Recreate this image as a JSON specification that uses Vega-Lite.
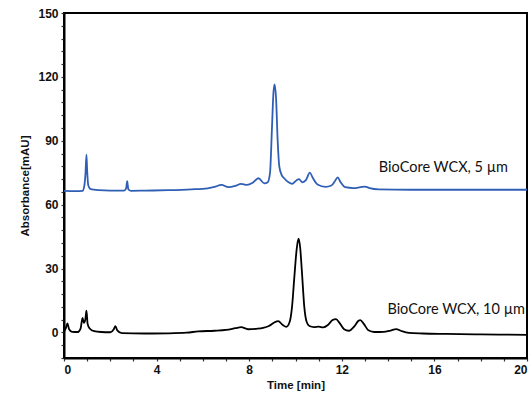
{
  "$schema": "https://vega.github.io/schema/vega-lite/v6.json",
  "width": 463,
  "height": 345,
  "autosize": {"type": "none"},
  "padding": {"left": 64, "top": 13, "right": 5, "bottom": 39},
  "background": "white",
  "config": {
    "view": {"stroke": "black", "strokeWidth": 2},
    "axis": {
      "grid": false,
      "domainColor": "black",
      "domainWidth": 2,
      "tickColor": "#333",
      "tickWidth": 1.2,
      "tickSize": 3,
      "labelOverlap": false,
      "labelFont": "Liberation Sans",
      "labelFontWeight": "bold",
      "labelFontSize": 12,
      "labelColor": "#111",
      "titleFont": "Liberation Sans",
      "titleFontWeight": "bold",
      "titleFontSize": 11.5,
      "titleColor": "#111"
    }
  },
  "datasets": {
    "traces": [
      {"series": "5um", "t": 0, "y": 66.5},
      {"series": "5um", "t": 0.5, "y": 66.4},
      {"series": "5um", "t": 0.8, "y": 66.5},
      {"series": "5um", "t": 0.88, "y": 69},
      {"series": "5um", "t": 0.93, "y": 75},
      {"series": "5um", "t": 0.97, "y": 83.5},
      {"series": "5um", "t": 1.0, "y": 76},
      {"series": "5um", "t": 1.05, "y": 69},
      {"series": "5um", "t": 1.15, "y": 67.3},
      {"series": "5um", "t": 1.5, "y": 66.8},
      {"series": "5um", "t": 2.0, "y": 66.6},
      {"series": "5um", "t": 2.6, "y": 66.6},
      {"series": "5um", "t": 2.68, "y": 67.5},
      {"series": "5um", "t": 2.73, "y": 71},
      {"series": "5um", "t": 2.78, "y": 67.2},
      {"series": "5um", "t": 2.9, "y": 66.5},
      {"series": "5um", "t": 3.5, "y": 66.6},
      {"series": "5um", "t": 4.5, "y": 66.8},
      {"series": "5um", "t": 5.5, "y": 67.2},
      {"series": "5um", "t": 6.2, "y": 67.7},
      {"series": "5um", "t": 6.5, "y": 68.3},
      {"series": "5um", "t": 6.8, "y": 69.3},
      {"series": "5um", "t": 7.1, "y": 68.2},
      {"series": "5um", "t": 7.4, "y": 68.8},
      {"series": "5um", "t": 7.65, "y": 69.8},
      {"series": "5um", "t": 7.9, "y": 69.3},
      {"series": "5um", "t": 8.15, "y": 70.3},
      {"series": "5um", "t": 8.4, "y": 72.4},
      {"series": "5um", "t": 8.65, "y": 70},
      {"series": "5um", "t": 8.8, "y": 70.5},
      {"series": "5um", "t": 8.9, "y": 75},
      {"series": "5um", "t": 8.98, "y": 95},
      {"series": "5um", "t": 9.05, "y": 113},
      {"series": "5um", "t": 9.1, "y": 116.5},
      {"series": "5um", "t": 9.16, "y": 110},
      {"series": "5um", "t": 9.23, "y": 90},
      {"series": "5um", "t": 9.3, "y": 78},
      {"series": "5um", "t": 9.4, "y": 74},
      {"series": "5um", "t": 9.5, "y": 72.5},
      {"series": "5um", "t": 9.7, "y": 70.5},
      {"series": "5um", "t": 9.85, "y": 69.8},
      {"series": "5um", "t": 10.05, "y": 71.5},
      {"series": "5um", "t": 10.15, "y": 72},
      {"series": "5um", "t": 10.3, "y": 70.5},
      {"series": "5um", "t": 10.45, "y": 71.5},
      {"series": "5um", "t": 10.62, "y": 75},
      {"series": "5um", "t": 10.75, "y": 72.5},
      {"series": "5um", "t": 10.95, "y": 69.5},
      {"series": "5um", "t": 11.3, "y": 68.4},
      {"series": "5um", "t": 11.55, "y": 69},
      {"series": "5um", "t": 11.7, "y": 71},
      {"series": "5um", "t": 11.82, "y": 72.8},
      {"series": "5um", "t": 11.95, "y": 70.5},
      {"series": "5um", "t": 12.15, "y": 68.2},
      {"series": "5um", "t": 12.5, "y": 67.8},
      {"series": "5um", "t": 12.8, "y": 68.2},
      {"series": "5um", "t": 13.0, "y": 68.5},
      {"series": "5um", "t": 13.2, "y": 67.8},
      {"series": "5um", "t": 13.6, "y": 67.2},
      {"series": "5um", "t": 15, "y": 67},
      {"series": "5um", "t": 17, "y": 67},
      {"series": "5um", "t": 20, "y": 67},
      {"series": "10um", "t": 0, "y": 0.3},
      {"series": "10um", "t": 0.08, "y": 2},
      {"series": "10um", "t": 0.15, "y": 4.3},
      {"series": "10um", "t": 0.22, "y": 1.5},
      {"series": "10um", "t": 0.35, "y": 0.3},
      {"series": "10um", "t": 0.6, "y": 0.2},
      {"series": "10um", "t": 0.72, "y": 2},
      {"series": "10um", "t": 0.8, "y": 6.8},
      {"series": "10um", "t": 0.86, "y": 4.5},
      {"series": "10um", "t": 0.92, "y": 6},
      {"series": "10um", "t": 0.97, "y": 10.2},
      {"series": "10um", "t": 1.02, "y": 4},
      {"series": "10um", "t": 1.1, "y": 2},
      {"series": "10um", "t": 1.3, "y": 0.6},
      {"series": "10um", "t": 1.6, "y": 0.2},
      {"series": "10um", "t": 2.0, "y": 0.1},
      {"series": "10um", "t": 2.15, "y": 1.5},
      {"series": "10um", "t": 2.22, "y": 3},
      {"series": "10um", "t": 2.3, "y": 1},
      {"series": "10um", "t": 2.5, "y": -0.3},
      {"series": "10um", "t": 3.5, "y": -0.5},
      {"series": "10um", "t": 4.5, "y": -0.4},
      {"series": "10um", "t": 5.3, "y": -0.1},
      {"series": "10um", "t": 5.8, "y": 0.5},
      {"series": "10um", "t": 6.5, "y": 0.8},
      {"series": "10um", "t": 7.0, "y": 1.2},
      {"series": "10um", "t": 7.4, "y": 2},
      {"series": "10um", "t": 7.65, "y": 2.5},
      {"series": "10um", "t": 7.95, "y": 1.5},
      {"series": "10um", "t": 8.3, "y": 1.7},
      {"series": "10um", "t": 8.6, "y": 2.1},
      {"series": "10um", "t": 8.85, "y": 3},
      {"series": "10um", "t": 9.1, "y": 4.8},
      {"series": "10um", "t": 9.25, "y": 5.3},
      {"series": "10um", "t": 9.45, "y": 3.5},
      {"series": "10um", "t": 9.6, "y": 2.6},
      {"series": "10um", "t": 9.75, "y": 5},
      {"series": "10um", "t": 9.85, "y": 12},
      {"series": "10um", "t": 9.95, "y": 26},
      {"series": "10um", "t": 10.05, "y": 39},
      {"series": "10um", "t": 10.13, "y": 44},
      {"series": "10um", "t": 10.2, "y": 40},
      {"series": "10um", "t": 10.28, "y": 28},
      {"series": "10um", "t": 10.38, "y": 12},
      {"series": "10um", "t": 10.48, "y": 5},
      {"series": "10um", "t": 10.6, "y": 3},
      {"series": "10um", "t": 10.8, "y": 2.5},
      {"series": "10um", "t": 11.0, "y": 2.7},
      {"series": "10um", "t": 11.2, "y": 2.4},
      {"series": "10um", "t": 11.4, "y": 3.5},
      {"series": "10um", "t": 11.6, "y": 5.8},
      {"series": "10um", "t": 11.75, "y": 6.3},
      {"series": "10um", "t": 11.9, "y": 4.5},
      {"series": "10um", "t": 12.1, "y": 1.5},
      {"series": "10um", "t": 12.3, "y": 0.8},
      {"series": "10um", "t": 12.55, "y": 3},
      {"series": "10um", "t": 12.72, "y": 5.5},
      {"series": "10um", "t": 12.8, "y": 5.8},
      {"series": "10um", "t": 12.95, "y": 4},
      {"series": "10um", "t": 13.15, "y": 1},
      {"series": "10um", "t": 13.4, "y": 0.2},
      {"series": "10um", "t": 13.8, "y": 0.3},
      {"series": "10um", "t": 14.1, "y": 0.9},
      {"series": "10um", "t": 14.35, "y": 1.6},
      {"series": "10um", "t": 14.55, "y": 0.8},
      {"series": "10um", "t": 14.9, "y": -0.2},
      {"series": "10um", "t": 15.5, "y": -0.5},
      {"series": "10um", "t": 16.5, "y": -0.7},
      {"series": "10um", "t": 18, "y": -0.9},
      {"series": "10um", "t": 20, "y": -1.1}
    ],
    "labels": [
      {"series": "5um", "t": 13.6, "y": 77.4, "label": "BioCore WCX, 5 µm"},
      {"series": "10um", "t": 13.97, "y": 10.4, "label": "BioCore WCX, 10 µm"}
    ]
  },
  "encoding": {
    "x": {
      "field": "t", "type": "quantitative",
      "scale": {"domain": [0, 20], "nice": false},
      "axis": {
        "title": "Time [min]",
        "values": [0,1,2,3,4,5,6,7,8,9,10,11,12,13,14,15,16,17,18,19,20],
        "labelExpr": "datum.value % 4 == 0 ? datum.label : ''",
        "labelOverlap": false,
        "labelPadding": 3,
        "titlePadding": 4
      }
    },
    "y": {
      "field": "y", "type": "quantitative",
      "scale": {"domain": [-12, 150], "nice": false, "zero": false},
      "axis": {
        "title": "Absorbance[mAU]",
        "values": [-12,-6,0,6,12,18,24,30,36,42,48,54,60,66,72,78,84,90,96,102,108,114,120,126,132,138,144,150],
        "labelExpr": "datum.value % 30 == 0 ? datum.label : ''",
        "labelOverlap": false,
        "labelPadding": 3,
        "titlePadding": 7
      }
    }
  },
  "layer": [
    {
      "data": {"name": "traces"},
      "mark": {"type": "line", "strokeWidth": 1.8, "interpolate": "monotone", "clip": true},
      "encoding": {
        "color": {
          "field": "series", "type": "nominal",
          "scale": {"domain": ["5um", "10um"], "range": ["#2f5fb5", "#000000"]},
          "legend": null
        },
        "detail": {"field": "series"}
      }
    },
    {
      "data": {"name": "labels"},
      "mark": {"type": "text", "align": "left", "baseline": "middle", "font": "Lato", "fontSize": 14.5, "color": "#111"},
      "encoding": {
        "text": {"field": "label"}
      }
    }
  ]
}
